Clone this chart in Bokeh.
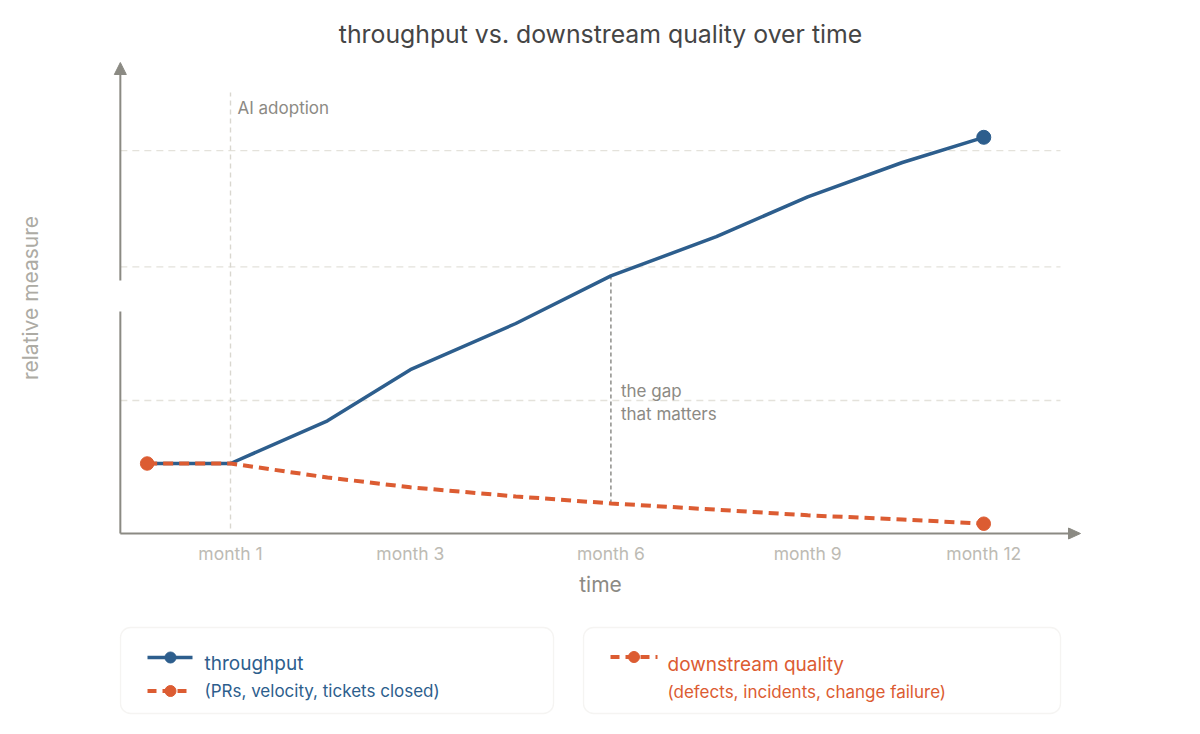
from bokeh.plotting import figure
from bokeh.models import Range1d, FixedTicker, BoxAnnotation
from bokeh.layouts import column
from bokeh.embed import file_html
from bokeh.resources import INLINE
from bokeh.core.properties import value

# ---------------- data ----------------
x_pos = [0.115, 1.0, 2.03, 2.91, 4.03, 5.04, 6.16, 7.13, 8.135, 9.0]
throughput = [10.0, 10.0, 16.1, 23.4, 30.0, 36.8, 42.4, 48.1, 53.0, 56.6]
quality = [10.0, 10.0, 8.0, 6.6, 5.3, 4.3, 3.4, 2.6, 2.0, 1.4]
tick_pos = [1.0, 2.91, 5.04, 7.13, 9.0]
tick_labels = ["month 1", "month 3", "month 6", "month 9", "month 12"]
grid_levels = [19.0, 38.1, 54.7]
adoption_x = 1.0
gap_index = 5

title_text = "throughput vs. downstream quality over time"
legend_titles = ["throughput", "downstream quality"]
legend_subs = ["(PRs, velocity, tickets closed)", "(defects, incidents, change failure)"]

# ---------------- style ----------------
FONT = "Inter"
BLUE = "#2d5e8d"
ORANGE = "#dc5c32"
AXIS = "#8b8a83"
GRID = "#e4e2db"
NOTE = "#8c8a84"

# pixel scale helpers (data units per pixel)
DX = 1 / 94.16
DY = 1 / 7.0

p = figure(width=1200, height=610,
           x_range=Range1d(-0.3806, 10.2396), y_range=Range1d(-1.0, 68.286),
           output_backend="svg", toolbar_location=None,
           min_border_left=100, min_border_right=100,
           min_border_top=55, min_border_bottom=70,
           title=title_text)
p.title.align = "center"
p.title.text_font = FONT
p.title.text_font_size = "24.8px"
p.title.text_font_style = "normal"
p.title.text_color = "#454545"
p.title.standoff = 13
p.outline_line_color = None
p.grid.visible = False
p.background_fill_color = "white"
p.border_fill_color = "white"

xa = p.xaxis[0]
xa.ticker = FixedTicker(ticks=tick_pos)
xa.major_label_overrides = {t: l for t, l in zip(tick_pos, tick_labels)}
xa.axis_line_color = None
xa.major_tick_line_color = None
xa.minor_tick_line_color = None
xa.major_tick_out = 0
xa.major_label_standoff = 2
xa.major_label_text_font = FONT
xa.major_label_text_font_size = "17.5px"
xa.major_label_text_color = "#bdbbb4"
xa.axis_label = "time"
xa.axis_label_text_font = FONT
xa.axis_label_text_font_size = "21px"
xa.axis_label_text_font_style = "normal"
xa.axis_label_text_color = NOTE
xa.axis_label_standoff = 5

ya = p.yaxis[0]
ya.ticker = FixedTicker(ticks=[])
ya.axis_line_color = None
ya.major_tick_line_color = None
ya.minor_tick_line_color = None
ya.major_tick_out = 0
ya.axis_label = "relative measure"
ya.axis_label_text_font = FONT
ya.axis_label_text_font_size = "21px"
ya.axis_label_text_font_style = "normal"
ya.axis_label_text_color = "#adaba4"
ya.axis_label_standoff = 58

# axis geometry
ax_x = -16 * DX
x_end = (1068 - 135.84) * DX
y_top = (533 - 74) * DY
y_break_hi = (533 - 280) * DY
y_break_lo = (533 - 311) * DY

# gridlines
p.segment(x0=[ax_x] * len(grid_levels), y0=grid_levels,
          x1=[(1060 - 135.84) * DX] * len(grid_levels), y1=grid_levels,
          line_color=GRID, line_width=1.3, line_dash="7 5")

# axes lines with break
p.segment(x0=[ax_x, ax_x, ax_x], y0=[y_break_hi, 0.0, 0.0],
          x1=[ax_x, ax_x, x_end], y1=[y_top, y_break_lo, 0.0],
          line_color=AXIS, line_width=2)
# arrow heads
p.patches(xs=[[ax_x - 6 * DX, ax_x + 6 * DX, ax_x],
              [x_end, x_end, x_end + 12 * DX]],
          ys=[[y_top, y_top, y_top + 12 * DY],
              [-5.5 * DY, 5.5 * DY, 0.0]],
          fill_color=AXIS, line_color=AXIS, line_width=1)

# AI adoption marker
p.segment(x0=[adoption_x], y0=[0.7], x1=[adoption_x], y1=[63.0],
          line_color="#d9d7cf", line_width=1.4, line_dash="5 4")
p.text(x=[adoption_x + 7 * DX], y=[(533 - 107) * DY], text=["AI adoption"],
       text_font=value(FONT), text_font_size="17px", text_color=NOTE,
       text_baseline="middle", text_align="left")

# gap marker
gx = x_pos[gap_index]
p.segment(x0=[gx], y0=[quality[gap_index]], x1=[gx], y1=[throughput[gap_index]],
          line_color="#8e8e8a", line_width=1.5, line_dash="4 3")
p.text(x=[gx + 10 * DX, gx + 10 * DX], y=[(533 - 390) * DY, (533 - 413) * DY],
       text=["the gap", "that matters"],
       text_font=value(FONT), text_font_size="17px", text_color=NOTE,
       text_baseline="middle", text_align="left")

# series
p.line(x_pos, throughput, line_color=BLUE, line_width=3.5, line_join="round")
p.line(x_pos, quality, line_color=ORANGE, line_width=4, line_dash="10 6")
p.scatter([x_pos[-1]], [throughput[-1]], size=14, fill_color=BLUE, line_color=BLUE)
p.scatter([x_pos[0], x_pos[-1]], [quality[0], quality[-1]], size=13.5,
          fill_color=ORANGE, line_color=ORANGE)

# ---------------- legend panel ----------------
q = figure(width=1200, height=124, x_range=Range1d(100, 1100), y_range=Range1d(0, 124),
           output_backend="svg", toolbar_location=None,
           min_border_left=100, min_border_right=100,
           min_border_top=0, min_border_bottom=0,
           x_axis_type=None, y_axis_type=None)
q.outline_line_color = None
q.grid.visible = False
q.background_fill_color = "white"
q.border_fill_color = "white"


def Y(py):
    return 734 - py


for l, r in [(120, 553), (583, 1060)]:
    q.add_layout(BoxAnnotation(left=l, right=r, top=Y(627), bottom=Y(713),
                               fill_color="white", fill_alpha=1.0,
                               line_color="#dddbd4", line_width=1.3,
                               border_radius=10, level="underlay"))

# box 1
q.line([147, 192], [Y(657), Y(657)], line_color=BLUE, line_width=3.5)
q.scatter([170], [Y(657)], size=11, fill_color=BLUE, line_color=BLUE)
q.line([147, 192], [Y(690.5), Y(690.5)], line_color=ORANGE, line_width=4, line_dash="9 6")
q.scatter([170], [Y(690.5)], size=11, fill_color=ORANGE, line_color=ORANGE)
q.text(x=[204], y=[Y(663)], text=[legend_titles[0]], text_font=value(FONT),
       text_font_size="19px", text_color=BLUE, text_baseline="middle")
q.text(x=[204], y=[Y(690.5)], text=[legend_subs[0]], text_font=value(FONT),
       text_font_size="17px", text_color=BLUE, text_baseline="middle")

# box 2
q.line([610, 657], [Y(656.5), Y(656.5)], line_color=ORANGE, line_width=4, line_dash="9 6")
q.scatter([633.5], [Y(656.5)], size=11, fill_color=ORANGE, line_color=ORANGE)
q.text(x=[667], y=[Y(664)], text=[legend_titles[1]], text_font=value(FONT),
       text_font_size="19px", text_color=ORANGE, text_baseline="middle")
q.text(x=[667], y=[Y(691)], text=[legend_subs[1]], text_font=value(FONT),
       text_font_size="17px", text_color=ORANGE, text_baseline="middle")

layout = column(p, q, spacing=0)
open("out.html", "w").write(file_html(layout, INLINE))
